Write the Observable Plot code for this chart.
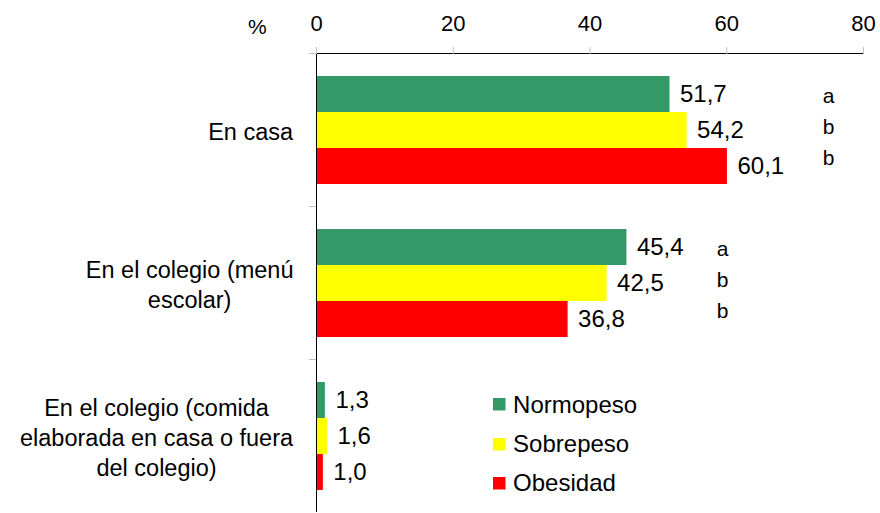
<!DOCTYPE html>
<html><head><meta charset="utf-8">
<script src="https://cdn.jsdelivr.net/npm/d3@7"></script>
<script src="https://cdn.jsdelivr.net/npm/@observablehq/plot@0.6"></script>
<style>
body{margin:0;background:#fff;}
#wrap{position:relative;width:880px;height:513px;font-family:"Liberation Sans",Arial,sans-serif;color:#000;}
#pct{position:absolute;left:248px;top:16px;font-size:21px;line-height:21px;}
#legend{position:absolute;left:493px;top:385px;}
#legend .lg-swatch{height:39.4px;padding-bottom:0 !important;margin:0 !important;}
#legend .lg-swatch > svg{margin-right:7.6px !important;}
#legend .lg-swatches{font-size:24px !important;font-family:"Liberation Sans",Arial,sans-serif !important;margin:0 !important;color:#000;}
</style></head><body><div id="wrap"><div id="pct">%</div><div id="legend"></div></div>
<script>
const categories = ["En casa", "En el colegio (menú escolar)", "En el colegio (comida elaborada en casa o fuera del colegio)"];
const categoryLabels = ["En casa", "En el colegio (menú\nescolar)", "En el colegio (comida\nelaborada en casa o fuera\ndel colegio)"];
const series = ["Normopeso", "Sobrepeso", "Obesidad"];
const normopeso = [51.7, 45.4, 1.3];
const sobrepeso = [54.2, 42.5, 1.6];
const obesidad = [60.1, 36.8, 1.0];
const colors = ["#339966", "#ffff00", "#ff0000"];
const xTicks = [0, 20, 40, 60, 80];
const letterText = ["a\nb\nb", "a\nb\nb"];
const letterX = [74.9, 59.4];

const values = [normopeso, sobrepeso, obesidad];
const rows = categories.flatMap((c, i) => series.map((s, j) => ({categoria: c, serie: s, valor: values[j][i]})));
const letters = letterText.map((t, i) => ({categoria: categories[i], x: letterX[i], text: t}));
const fmt = v => v.toFixed(1).replace(".", ",");
const W = 880, H = 513, mL = 316, mR = 17, mT = 52;
const font = "Liberation Sans, Arial, sans-serif";

const plot = Plot.plot({
  width: W, height: H, marginLeft: mL, marginRight: mR, marginTop: mT, marginBottom: 0,
  style: {fontFamily: font, color: "#000", background: "#fff", overflow: "visible"},
  x: {domain: [0, 80]},
  y: {domain: series, axis: null, paddingInner: 0, paddingOuter: 0.578},
  fy: {domain: categories, padding: 0},
  color: {domain: series, range: colors},
  marks: [
    Plot.barX(rows, {x: "valor", y: "serie", fy: "categoria", fill: "serie"}),
    Plot.text(rows, {x: "valor", y: "serie", fy: "categoria", text: d => fmt(d.valor), textAnchor: "start", dx: 10, fontSize: 24, fill: "#000"}),
    Plot.text(letters, {x: "x", fy: "categoria", text: "text", fontSize: 21, lineHeight: 1.47, dy: -6, fill: "#000"}),
    Plot.frame({anchor: "top", stroke: "#bfbfbf", dx: -7, insetRight: W - mL - mR - 7}),
    Plot.ruleX([0], {stroke: "#000"}),
    Plot.frame({anchor: "top", stroke: "#000", fy: categories[0]}),
    Plot.axisX({anchor: "top", ticks: xTicks, tickSize: 7, tickPadding: 15.5, stroke: "#bfbfbf", fontSize: 22, label: null}),
    Plot.axisFy({anchor: "left", tickSize: 0, tickPadding: 23, fontSize: 23.5, lineHeight: 1.28, tickFormat: c => categoryLabels[categories.indexOf(c)], label: null})
  ]
});
document.getElementById("wrap").prepend(plot);

d3.select(plot).selectAll('g[aria-label="fy-axis tick label"] text').each(function () {
  const w = this.getBBox().width;
  const t = d3.select(this).attr("text-anchor", "middle");
  const sp = t.selectAll("tspan");
  if (sp.size()) sp.attr("x", -w / 2); else t.attr("x", -w / 2);
});

const lg = plot.legend("color", {legend: "swatches", columns: 1, swatchSize: 12.5, className: "lg", style: {fontSize: "24px", fontFamily: font}});
document.getElementById("legend").appendChild(lg);
</script></body></html>
